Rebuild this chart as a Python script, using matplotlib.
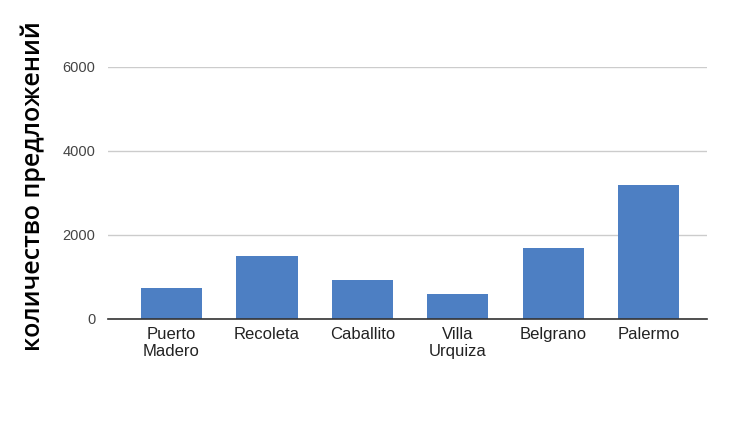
# Offers per Buenos Aires neighbourhood, bar chart
import matplotlib
matplotlib.use("Agg")
import matplotlib.pyplot as plt

districts = ["Puerto\nMadero", "Recoleta", "Caballito", "Villa\nUrquiza", "Belgrano", "Palermo"]
offers = [730, 1500, 930, 590, 1700, 3200]
y_ticks = [0, 2000, 4000, 6000]

fig = plt.figure(figsize=(7.5, 4.4), dpi=100)
ax = fig.add_axes([0.144, 0.275, 0.799, 0.573])

x = list(range(len(districts)))
ax.bar(x, offers, width=0.64, color="#4d7fc3", zorder=3)

ax.set_ylim(0, 6000)
ax.set_xlim(-0.666, 5.613)
ax.set_yticks(y_ticks)
ax.set_yticklabels([str(t) for t in y_ticks], fontsize=10.5, color="#444444",
                   family="Liberation Sans")
ax.set_xticks(x)
ax.set_xticklabels(districts, fontsize=12, color="#222222",
                   family="Liberation Sans", linespacing=1.15)
ax.tick_params(axis="y", length=0, pad=9)
ax.tick_params(axis="x", length=0, pad=6)

ax.grid(axis="y", color="#cccccc", linewidth=1, zorder=0)
for side in ["top", "right", "left"]:
    ax.spines[side].set_visible(False)
ax.spines["bottom"].set_color("#333333")
ax.spines["bottom"].set_linewidth(1.2)
ax.spines["bottom"].set_zorder(4)

fig.text(0.044, 0.577, "количество предложений", rotation=90, ha="center", va="center",
         fontsize=18, color="black", fontweight="semibold",
         family=["Open Sans", "DejaVu Sans"])

fig.savefig("out.png", dpi=100)
